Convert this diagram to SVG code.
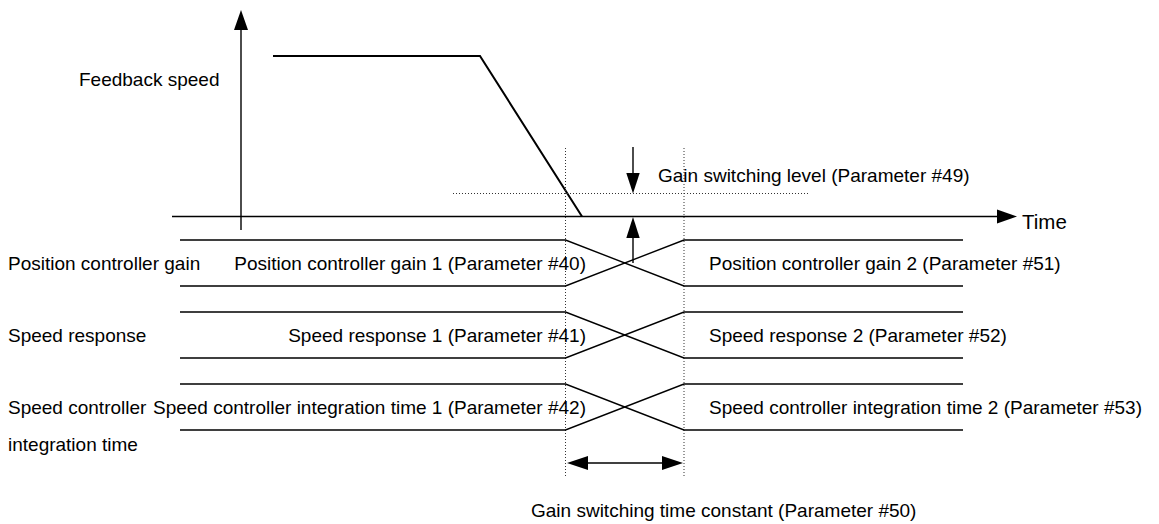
<svg xmlns="http://www.w3.org/2000/svg" width="1159" height="524" viewBox="0 0 1159 524">
<style>
text{font-family:"Liberation Sans",Arial,sans-serif;font-size:19px;fill:#000}
.ln{stroke:#000;stroke-width:1.4;fill:none}
.fb{stroke:#000;stroke-width:2;fill:none}
.dot{stroke:#333;stroke-width:1;stroke-dasharray:1 2;fill:none}
.ah{fill:#000;stroke:none}
.end{text-anchor:end}
</style>
<rect width="1159" height="524" fill="#fff"/>
<g id="axes">
<line class="ln" x1="241" y1="230" x2="241" y2="28"/>
<polygon class="ah" points="241,10 234,30 248,30"/>
<line class="ln" x1="172" y1="216.5" x2="999" y2="216.5"/>
<polygon class="ah" points="1017,216.5 997,209.5 997,223.5"/>
<text x="1022" y="229" style="font-size:20.5px">Time</text>
<text x="79" y="86">Feedback speed</text>
</g>
<g id="feedback-curve">
<polyline class="fb" points="273,56 480,56 582,216.5"/>
</g>
<g id="guides">
<line class="dot" x1="453" y1="193.5" x2="810" y2="193.5"/>
<line class="dot" x1="565.5" y1="148" x2="565.5" y2="478"/>
<line class="dot" x1="684" y1="148" x2="684" y2="478"/>
</g>
<g id="connectors">
<line class="ln" x1="633" y1="147" x2="633" y2="176"/>
<polygon class="ah" points="633,193.5 626.3,173 639.7,173"/>
<line class="ln" x1="633" y1="236" x2="633" y2="263"/>
<polygon class="ah" points="633,217 626.3,238 639.7,238"/>
<text x="658" y="182">Gain switching level (Parameter #49)</text>
<line class="ln" x1="585" y1="463" x2="664" y2="463"/>
<polygon class="ah" points="567,463 588,456 588,470"/>
<polygon class="ah" points="683,463 662,456 662,470"/>
<text x="531" y="517">Gain switching time constant (Parameter #50)</text>
</g>
<g id="position-gain">
<polyline class="ln" points="180,240 565.5,240 684,286 963,286"/>
<polyline class="ln" points="180,286 565.5,286 684,240 963,240"/>
<text x="8" y="270">Position controller gain</text>
<text class="end" x="586" y="270">Position controller gain 1 (Parameter #40)</text>
<text x="709" y="270">Position controller gain 2 (Parameter #51)</text>
</g>
<g id="speed-response">
<polyline class="ln" points="180,312 565.5,312 684,358 963,358"/>
<polyline class="ln" points="180,358 565.5,358 684,312 963,312"/>
<text x="8" y="342">Speed response</text>
<text class="end" x="586" y="342">Speed response 1 (Parameter #41)</text>
<text x="709" y="342">Speed response 2 (Parameter #52)</text>
</g>
<g id="speed-integration">
<polyline class="ln" points="180,384 565.5,384 684,430 963,430"/>
<polyline class="ln" points="180,430 565.5,430 684,384 963,384"/>
<text x="8" y="414">Speed controller</text>
<text x="8" y="451">integration time</text>
<text class="end" x="586" y="414">Speed controller integration time 1 (Parameter #42)</text>
<text x="709" y="414">Speed controller integration time 2 (Parameter #53)</text>
</g>
</svg>
